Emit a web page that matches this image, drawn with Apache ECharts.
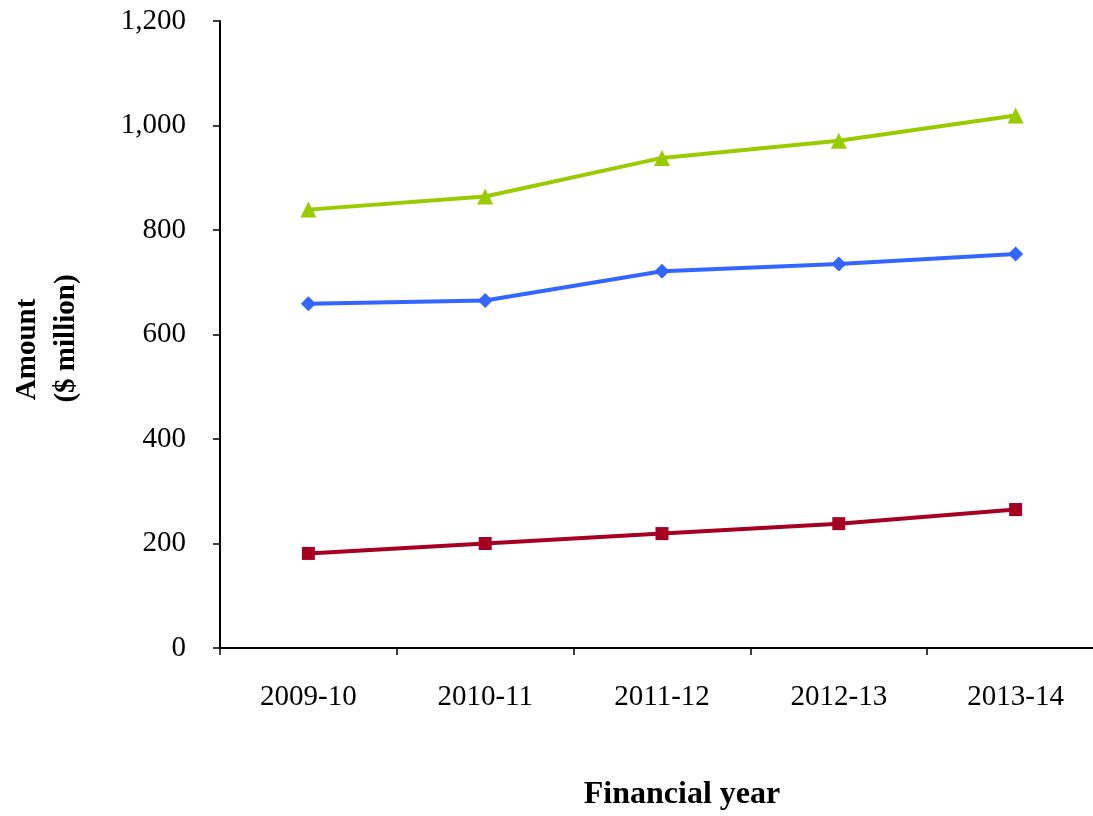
<!DOCTYPE html>
<html>
<head>
<meta charset="utf-8">
<style>
  html, body { margin: 0; padding: 0; background: #ffffff; }
  #wrap { width: 1093px; height: 816px; overflow: hidden; position: relative; }
  #chart { width: 1104px; height: 816px; position: absolute; left: 0; top: 0; }
</style>
<script src="https://cdn.jsdelivr.net/npm/echarts@6/dist/echarts.min.js"></script>
</head>
<body>
<div id="wrap"><div id="chart"></div></div>
<script>
// Financial years on the category axis
const years = ['2009-10', '2010-11', '2011-12', '2012-13', '2013-14'];

// Amounts in $ million for each series
const totalAmount = [839, 864, 938, 971, 1019];   // green, triangles
const middleAmount = [659, 665, 721, 735, 754];   // blue, diamonds
const lowerAmount = [181, 200, 219, 238, 265];    // red, squares

// Value axis range
const yMin = 0;
const yMax = 1200;
const yStep = 200;

const serif = '"Liberation Serif", "DejaVu Serif", serif';

const chart = echarts.init(document.getElementById('chart'), null, { renderer: 'canvas' });

function lineSeries(name, data, color, symbol, size) {
  return {
    name: name,
    type: 'line',
    data: data,
    symbol: symbol,
    symbolSize: size,
    showSymbol: true,
    lineStyle: { color: color, width: 4 },
    itemStyle: { color: color },
    emphasis: { disabled: true },
    animation: false
  };
}

chart.setOption({
  backgroundColor: '#ffffff',
  animation: false,
  // the plot runs a little past the right edge of the visible area
  grid: { left: 216, right: 0, top: 21, bottom: 161, containLabel: false },
  xAxis: {
    type: 'category',
    data: years,
    boundaryGap: true,
    name: 'Financial year',
    nameLocation: 'middle',
    nameGap: 131,
    nameTextStyle: {
      fontFamily: serif, fontSize: 32, fontWeight: 'bold', color: '#000',
      padding: [0, 0, 0, 40]
    },
    axisLine: { lineStyle: { color: '#000', width: 2 } },
    axisTick: { show: true, inside: false, length: 7, alignWithLabel: false, lineStyle: { color: '#000', width: 1.5 } },
    axisLabel: { fontFamily: serif, fontSize: 29, color: '#000', margin: 35 },
    splitLine: { show: false }
  },
  yAxis: {
    type: 'value',
    min: yMin,
    max: yMax,
    interval: yStep,
    // first line is padded so both lines start at the same point
    name: 'Amount   \n($ million)',
    nameLocation: 'middle',
    nameRotate: 90,
    nameGap: 134,
    nameTextStyle: {
      fontFamily: serif, fontSize: 29, fontWeight: 'bold', color: '#000', lineHeight: 39,
      padding: [0, 8, 0, 0]
    },
    axisLine: { show: true, lineStyle: { color: '#000', width: 2 } },
    axisTick: { show: true, inside: false, length: 7, lineStyle: { color: '#000', width: 1.5 } },
    axisLabel: {
      fontFamily: serif, fontSize: 29, color: '#000', margin: 34,
      formatter: v => v.toLocaleString('en-US')
    },
    splitLine: { show: false }
  },
  series: [
    lineSeries('Total', totalAmount, '#99CC00', 'triangle', 16),
    lineSeries('Middle', middleAmount, '#3366FF', 'diamond', 15),
    lineSeries('Lower', lowerAmount, '#A50021', 'rect', 13)
  ]
});
</script>
</body>
</html>
